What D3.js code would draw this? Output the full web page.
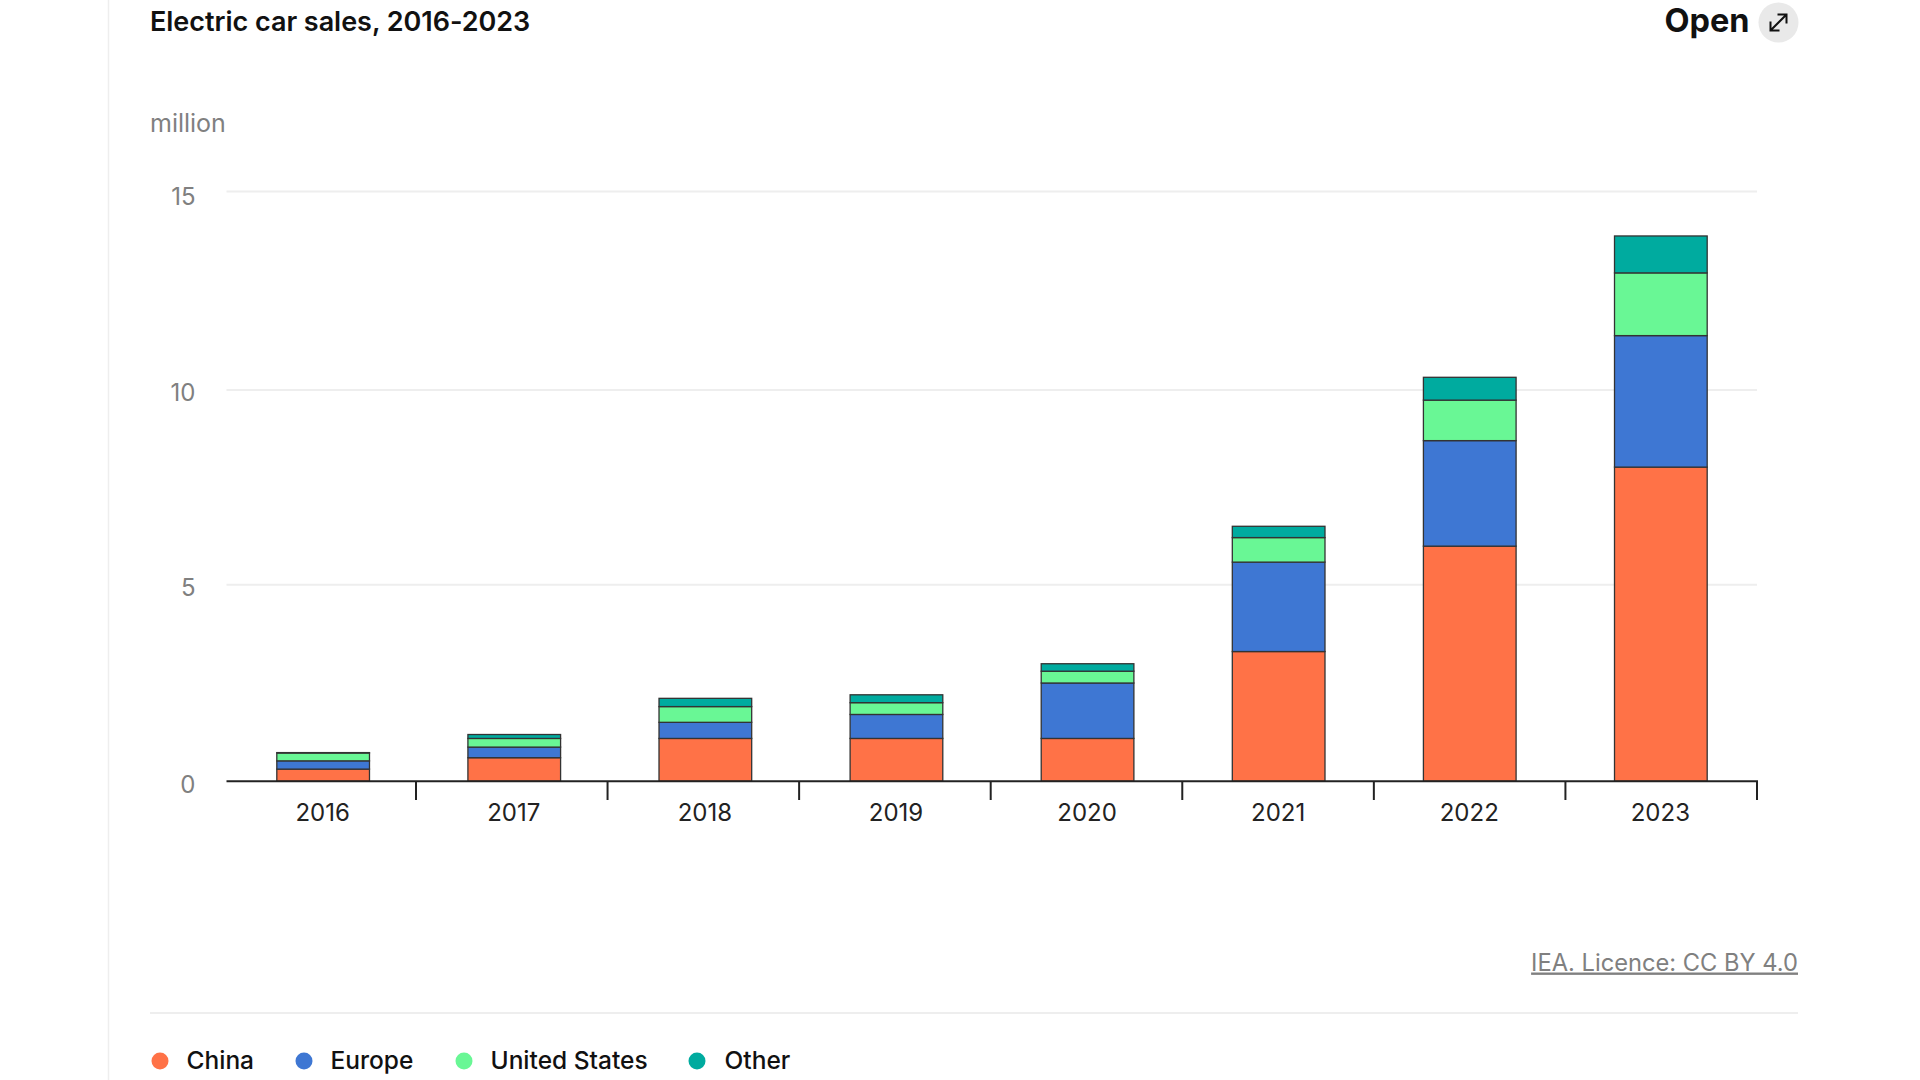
<!DOCTYPE html>
<html>
<head>
<meta charset="utf-8">
<script src="https://cdn.jsdelivr.net/npm/d3@7"></script>
<style>
  html, body { margin: 0; padding: 0; background: #fff; overflow: hidden; }
  svg { display: block; font-family: Inter, sans-serif; }
</style>
</head>
<body>
<svg id="chart" width="1920" height="1080"></svg>
<script>
// waarden (miljoen auto's)
const years = ["2016", "2017", "2018", "2019", "2020", "2021", "2022", "2023"];
const china = [0.31, 0.6, 1.09, 1.09, 1.09, 3.3, 5.99, 8.02];
const europe = [0.21, 0.27, 0.41, 0.61, 1.41, 2.28, 2.71, 3.35];
const unitedStates = [0.2, 0.22, 0.4, 0.3, 0.3, 0.63, 1.04, 1.58];
const other = [0.01, 0.1, 0.21, 0.2, 0.19, 0.29, 0.58, 0.93];
const yTicks = [0, 5, 10, 15];

const seriesNames = ["China", "Europe", "United States", "Other"];
const seriesColors = ["#ff7247", "#3e77d3", "#69f795", "#00ab9f"];
const legendX = [160, 304, 464, 697];

const table = years.map((y, i) => ({
  year: y,
  China: china[i],
  Europe: europe[i],
  "United States": unitedStates[i],
  Other: other[i]
}));

const svg = d3.select("#chart");

const x = d3.scaleBand().domain(years).range([227.6, 1756.4]).paddingInner(0.515).paddingOuter(0.2575);
// de gridlijnen in het origineel staan niet precies even ver uit elkaar
const y = d3.scaleLinear().domain(yTicks).range([781.3, 584.7, 390, 191.5]);
const tickX = d3.scaleLinear().domain([0, years.length]).range([224.4, 1757]);
const color = d3.scaleOrdinal().domain(seriesNames).range(seriesColors);

// paginarand links
svg.append("line").attr("x1", 108.5).attr("x2", 108.5).attr("y1", 0).attr("y2", 1080)
  .attr("stroke", "#eeeeee").attr("stroke-width", 1.5);

// titel
svg.append("text").attr("x", 150).attr("y", 31)
  .attr("font-size", 27).attr("font-weight", 600).attr("fill", "#111")
  .attr("letter-spacing", -0.03)
  .text("Electric car sales, 2016-2023");

// open knop
svg.append("text").attr("x", 1749.5).attr("y", 32).attr("text-anchor", "end")
  .attr("font-size", 32.5).attr("font-weight", 700).attr("fill", "#111")
  .text("Open");
svg.append("circle").attr("cx", 1778.5).attr("cy", 22.5).attr("r", 20).attr("fill", "#e9e9e9");
svg.append("path")
  .attr("d", "M1770.5 30.5 L1786.5 14.5 M1777.5 14.5 H1786.5 V23.5 M1770.5 21.5 V30.5 H1779.5")
  .attr("fill", "none").attr("stroke", "#111").attr("stroke-width", 2);

svg.append("text").attr("x", 150).attr("y", 132)
  .attr("font-size", 25).attr("fill", "#808080").text("million");

// y as met gridlijnen
const yAxis = d3.axisLeft(y).tickValues(yTicks).tickSize(0).tickPadding(31);
const yG = svg.append("g").attr("transform", "translate(226.5,0)").call(yAxis);
yG.select(".domain").remove();
yG.selectAll("text").attr("font-size", 24).attr("fill", "#808080").attr("font-family", "Inter, sans-serif")
  .attr("dy", "0.72em").attr("y", d => d === 15 ? -4.5 : -6.3);
svg.append("g").selectAll("line")
  .data(yTicks.filter(d => d > 0))
  .join("line")
  .attr("x1", 226.5).attr("x2", 1757)
  .attr("y1", d => y(d)).attr("y2", d => y(d))
  .attr("stroke", "#eeeeee").attr("stroke-width", 2);

// gestapelde balken
const stacked = d3.stack().keys(seriesNames)(table);
svg.append("g").selectAll("g")
  .data(stacked)
  .join("g")
  .attr("fill", d => color(d.key))
  .selectAll("rect")
  .data(d => d)
  .join("rect")
  .attr("x", d => x(d.data.year))
  .attr("width", x.bandwidth())
  .attr("y", d => y(d[1]))
  .attr("height", d => y(d[0]) - y(d[1]))
  .attr("stroke", "#333")
  .attr("stroke-width", 1.3);

// x as, streepjes tussen de jaren
const xAxis = d3.axisBottom(x).tickSize(0).tickPadding(23);
const xG = svg.append("g").attr("transform", "translate(-0.5,781)").call(xAxis);
xG.select(".domain").remove();
xG.selectAll("text").attr("font-size", 24).attr("fill", "#222").attr("font-family", "Inter, sans-serif");
svg.append("line").attr("x1", 226.5).attr("x2", 1758).attr("y1", 781.3).attr("y2", 781.3)
  .attr("stroke", "#222").attr("stroke-width", 2);
svg.append("g").selectAll("line")
  .data(d3.range(1, years.length + 1))
  .join("line")
  .attr("x1", d => tickX(d))
  .attr("x2", d => tickX(d))
  .attr("y1", 781).attr("y2", 800)
  .attr("stroke", "#222").attr("stroke-width", 2);

// bron
svg.append("text").attr("x", 1798).attr("y", 970.5).attr("text-anchor", "end")
  .attr("font-size", 23.7).attr("fill", "#808080")
  .attr("text-decoration", "underline")
  .text("IEA. Licence: CC BY 4.0");

svg.append("line").attr("x1", 150).attr("x2", 1798).attr("y1", 1013).attr("y2", 1013)
  .attr("stroke", "#eeeeee").attr("stroke-width", 2);

// legenda
const legend = svg.append("g").selectAll("g")
  .data(seriesNames)
  .join("g")
  .attr("transform", (d, i) => `translate(${legendX[i]},1061)`);
legend.append("circle").attr("r", 8.5).attr("fill", d => color(d));
legend.append("text").attr("x", (d, i) => i === 3 ? 27.5 : 26.5).attr("y", 8)
  .attr("font-size", 24.5).attr("font-weight", 500).attr("fill", "#111")
  .text(d => d);
</script>
</body>
</html>
